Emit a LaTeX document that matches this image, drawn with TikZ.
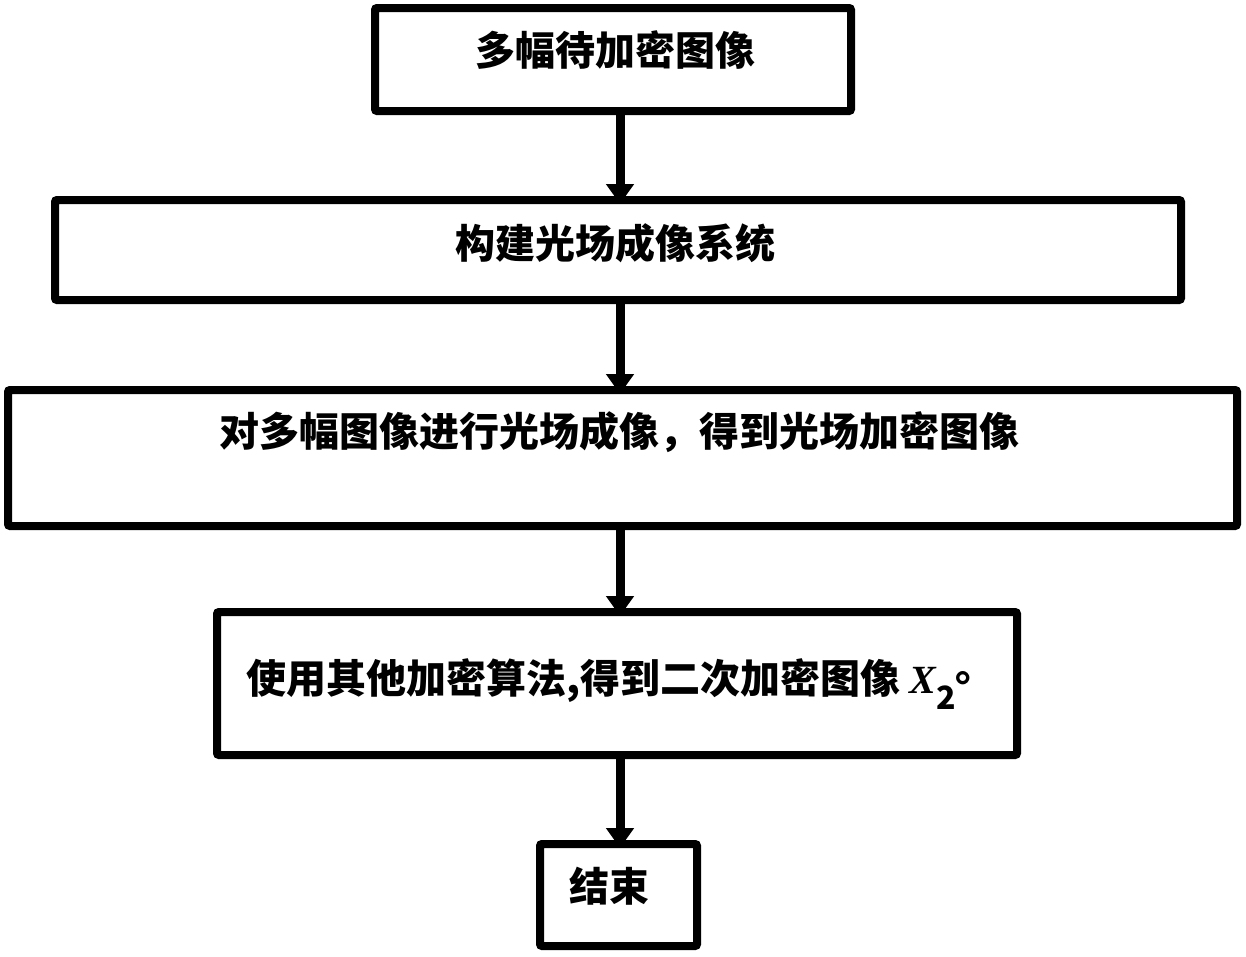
\documentclass[tikz,border=0pt]{standalone}
\usepackage{fontspec}
\newfontfamily\cjk{Noto Sans CJK SC}
\newfontfamily\latinserif{Liberation Serif}
\usetikzlibrary{arrows.meta}
\begin{document}
\begin{tikzpicture}[x=1pt,y=-1pt,
  stepbox/.style={draw=black,line width=8pt,rounded corners=2pt,inner sep=0pt,outer sep=0pt,fill=white},
  steptext/.style={inner sep=0pt,font=\cjk\bfseries\fontsize{40}{48}\selectfont},
  flow/.style={line width=9pt,-{Triangle[width=27pt,length=20pt]}}]
\useasboundingbox (0,0) rectangle (1246,956);

% process boxes
\node[stepbox,minimum width=476pt,minimum height=103pt]  (b1) at (613,59.5) {};
\node[stepbox,minimum width=1126pt,minimum height=100pt] (b2) at (618,250) {};
\node[stepbox,minimum width=1229pt,minimum height=136pt] (b3) at (622.5,458) {};
\node[stepbox,minimum width=800pt,minimum height=143pt]  (b4) at (617,683.5) {};
\node[stepbox,minimum width=157pt,minimum height=102pt]  (b5) at (618.5,895) {};

% box labels
\node[steptext] (t1) at (615,50) {多幅待加密图像};
\node[steptext] (t2) at (615,243) {构建光场成像系统};
\node[steptext] (t3) at (619,432) {对多幅图像进行光场成像，得到光场加密图像};
\node[steptext,anchor=west] (t4) at (246,684) {使用其他加密算法,得到二次加密图像 {\latinserif\bfseries\itshape X}\raisebox{-0.4em}{\cjk\bfseries\fontsize{32}{32}\selectfont 2}\raisebox{0.3em}{。}};
\node[steptext] (t5) at (609,886) {结束};

% connectors along a common vertical axis
\coordinate (ax) at (620,0);
\draw[flow] (b1.south -| ax) -- ([yshift=-4pt]b2.north -| ax);
\draw[flow] (b2.south -| ax) -- ([yshift=-4pt]b3.north -| ax);
\draw[flow] (b3.south -| ax) -- ([yshift=-4pt]b4.north -| ax);
\draw[flow] (b4.south -| ax) -- ([yshift=-4pt]b5.north -| ax);
\end{tikzpicture}
\end{document}
